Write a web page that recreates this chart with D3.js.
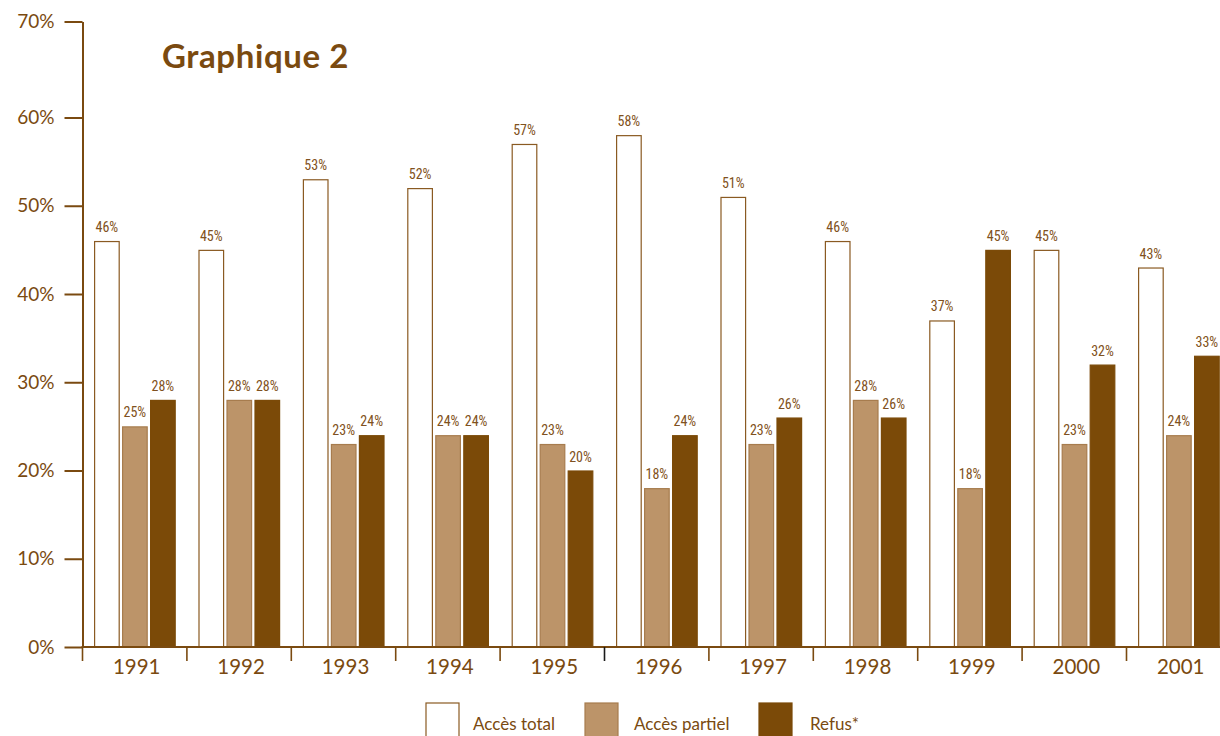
<!DOCTYPE html>
<html lang="fr">
<head>
<meta charset="utf-8">
<script src="https://cdn.jsdelivr.net/npm/d3@7"></script>
<style>
  html, body { margin: 0; padding: 0; background: #fff; }
  svg { display: block; }
  .txt { fill: #7a4a10; font-family: Lato, "Open Sans", sans-serif; }
  .val { fill: #7f5120; font-family: "Liberation Sans Narrow", "Roboto Condensed", sans-serif; font-size: 14px; }
</style>
</head>
<body>
<svg id="chart" width="1220" height="736"></svg>
<script>
// Années et séries (en %)
const years = ["1991", "1992", "1993", "1994", "1995", "1996", "1997", "1998", "1999", "2000", "2001"];
const series = ["Accès total", "Accès partiel", "Refus*"];
const accesTotal   = [46, 45, 53, 52, 57, 58, 51, 46, 37, 45, 43];
const accesPartiel = [25, 28, 23, 24, 23, 18, 23, 28, 18, 23, 24];
const refus        = [28, 28, 24, 24, 20, 24, 26, 26, 45, 32, 33];
const yTicks = [0, 10, 20, 30, 40, 50, 60, 70];

const BROWN = "#7b4a08";
const TAN = "#bc9469";
const AXIS = "#7a4a10";

const rows = years.map((y, i) => ({
  year: y,
  values: [accesTotal[i], accesPartiel[i], refus[i]]
}));

const svg = d3.select("#chart");

// Échelles
const x0 = d3.scaleBand().domain(years).range([82.5, 82.5 + 104.4 * years.length]).padding(0);
const x1 = d3.scaleBand().domain(series).range([11.6, 93.2]).paddingInner(0.086).paddingOuter(0);
const y = d3.scaleLinear().domain([0, 60, 70]).range([647, 117.5, 21.5]);

const fill = d3.scaleOrdinal().domain(series).range(["#ffffff", TAN, BROWN]);
const stroke = d3.scaleOrdinal().domain(series).range(["#8a5a22", "#a77c4e", BROWN]);

// Barres
const groups = svg.append("g").selectAll("g")
  .data(rows).join("g")
  .attr("transform", d => `translate(${x0(d.year)},0)`);

groups.selectAll("rect")
  .data(d => series.map((s, k) => ({ s, v: d.values[k] })))
  .join("rect")
  .attr("x", d => x1(d.s) + 0.5)
  .attr("y", d => y(d.v) + 0.5)
  .attr("width", x1.bandwidth() - 1)
  .attr("height", d => y(0) - y(d.v) - 0.5)
  .attr("fill", d => fill(d.s))
  .attr("stroke", d => stroke(d.s))
  .attr("stroke-width", 1.2);

// Étiquettes de valeur
groups.selectAll("text")
  .data(d => series.map((s, k) => ({ s, v: d.values[k] })))
  .join("text")
  .attr("class", "val")
  .attr("x", d => x1(d.s) + x1.bandwidth() / 2)
  .attr("y", d => y(d.v) - 9)
  .attr("text-anchor", "middle")
  .text(d => d.v + "%");

// Axe vertical
const yAxis = svg.append("g")
  .attr("transform", "translate(82.5,0)")
  .call(d3.axisLeft(y).tickValues(yTicks).tickSize(18).tickSizeOuter(0).tickPadding(10)
    .tickFormat(d => d + "%"));
yAxis.select(".domain").attr("stroke", AXIS).attr("stroke-width", 2);
yAxis.selectAll(".tick line").attr("stroke", AXIS).attr("stroke-width", 2);
yAxis.selectAll(".tick text").attr("class", "txt").style("font-size", "19px");

// Axe horizontal : ligne, repères aux limites de groupes, années centrées
const xAxis = svg.append("g").attr("transform", `translate(0,${y(0)})`);
xAxis.append("line")
  .attr("x1", x0.range()[0] - 1).attr("x2", x0.range()[1])
  .attr("stroke", AXIS).attr("stroke-width", 2);
xAxis.selectAll("line.tk")
  .data(years).join("line")
  .attr("class", "tk")
  .attr("x1", d => x0(d)).attr("x2", d => x0(d))
  .attr("y1", 0).attr("y2", 14)
  .attr("stroke", d => d === "1996" ? "#1a1a1a" : AXIS)
  .attr("stroke-width", 1.6);
xAxis.selectAll("text")
  .data(years).join("text")
  .attr("class", "txt")
  .attr("x", d => x0(d) + x0.bandwidth() / 2 + 2)
  .attr("y", 27)
  .attr("text-anchor", "middle")
  .style("font-size", "20.5px")
  .text(d => d);

// Titre
svg.append("text")
  .attr("class", "txt")
  .attr("x", 162).attr("y", 68)
  .style("font-size", "33px").style("font-weight", "bold")
  .style("letter-spacing", "0.6px")
  .text("Graphique 2");

// Légende
const legendX = [426, 585, 759];
const legend = svg.append("g").selectAll("g")
  .data(series).join("g")
  .attr("transform", (d, i) => `translate(${legendX[i]},703)`);
legend.append("rect")
  .attr("width", 33).attr("height", 40)
  .attr("fill", d => fill(d))
  .attr("stroke", d => stroke(d))
  .attr("stroke-width", 1.2);
legend.append("text")
  .attr("class", "txt")
  .attr("x", (d, i) => [47, 49, 51][i])
  .attr("y", 27)
  .style("font-size", "17px")
  .text(d => d);
</script>
</body>
</html>
